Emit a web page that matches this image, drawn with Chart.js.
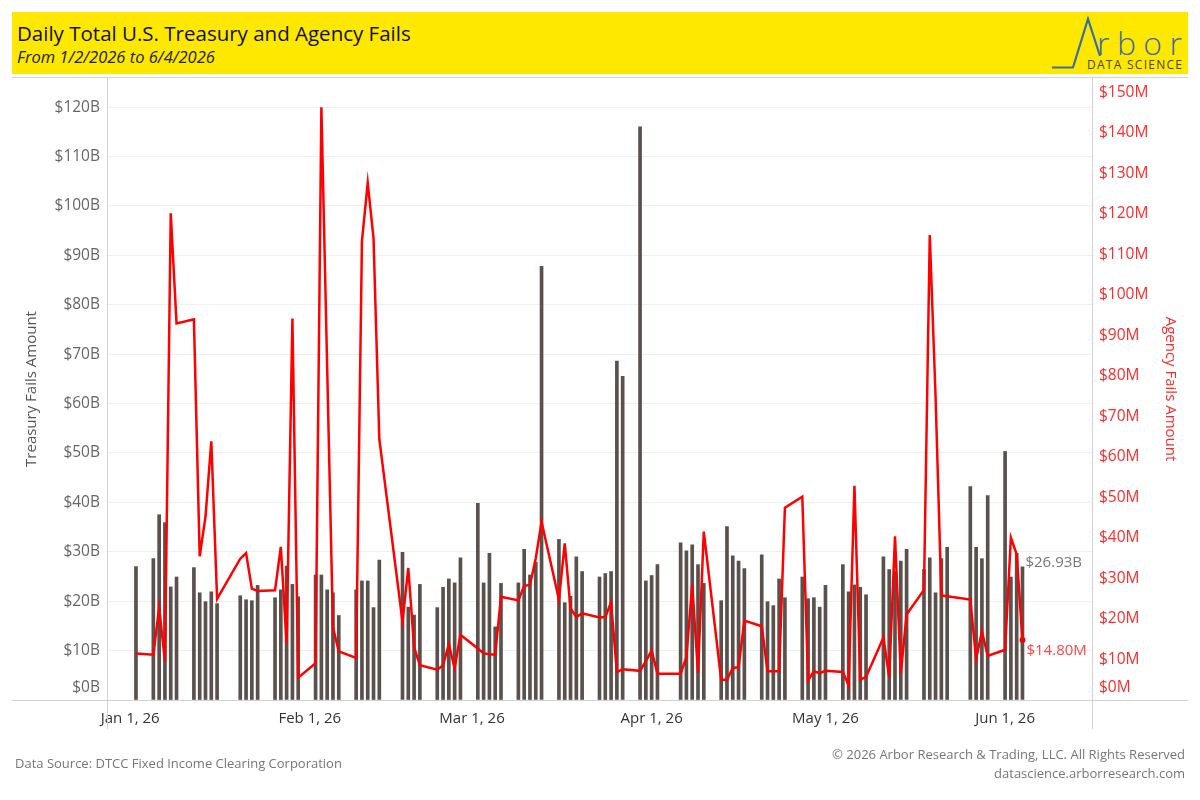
<!DOCTYPE html>
<html>
<head>
<meta charset="utf-8">
<script src="https://cdn.jsdelivr.net/npm/chart.js@4.4.1/dist/chart.umd.min.js"></script>
<style>
html, body { margin: 0; padding: 0; background: #fff; }
body { width: 1200px; height: 800px; position: relative; overflow: hidden; font-family: "Open Sans", sans-serif; }
#band { position: absolute; left: 12px; top: 12px; width: 1176px; height: 62px; background: #ffe800; }
#title { position: absolute; left: 17px; top: 19px; font-size: 20.5px; line-height: 28px; color: #111; white-space: nowrap; }
#subtitle { position: absolute; left: 17px; top: 46px; font-size: 16.5px; line-height: 22px; font-style: italic; color: #222; white-space: nowrap; }
#logo { position: absolute; left: 0; top: 0; }
#wrap { position: absolute; left: 0; top: 0; width: 1200px; height: 800px; }
.foot { position: absolute; font-size: 13px; line-height: 18px; color: #777; white-space: nowrap; }
</style>
</head>
<body>
<div id="band"></div>
<div id="title">Daily Total U.S. Treasury and Agency Fails</div>
<div id="subtitle">From 1/2/2026 to 6/4/2026</div>
<svg id="logo" width="1200" height="80">
  <polyline points="1052,67.5 1073,67.5 1088,19 1100,56" fill="none" stroke="#3d6ea3" stroke-width="2.2"/>
  <text x="1097" y="55" font-family="Open Sans" font-weight="300" font-size="32" fill="#3d6ea3" textLength="85" lengthAdjust="spacing">rbor</text>
  <text x="1087" y="68.5" font-family="Open Sans" font-size="12" fill="#444" textLength="95" lengthAdjust="spacing">DATA SCIENCE</text>
</svg>
<div id="wrap"><canvas id="chart"></canvas></div>
<div class="foot" style="left:15px; top:754px;">Data Source: DTCC Fixed Income Clearing Corporation</div>
<div class="foot" style="right:15px; top:745px;">© 2026 Arbor Research &amp; Trading, LLC. All Rights Reserved</div>
<div class="foot" style="right:15px; top:764px;">datascience.arborresearch.com</div>
<script>
// trading days shown in the chart
var tradeDates = [
  '2026-01-02','2026-01-05','2026-01-06','2026-01-07','2026-01-08','2026-01-09','2026-01-12','2026-01-13','2026-01-14','2026-01-15',
  '2026-01-16','2026-01-20','2026-01-21','2026-01-22','2026-01-23','2026-01-26','2026-01-27','2026-01-28','2026-01-29','2026-01-30',
  '2026-02-02','2026-02-03','2026-02-04','2026-02-05','2026-02-06','2026-02-09','2026-02-10','2026-02-11','2026-02-12','2026-02-13',
  '2026-02-17','2026-02-18','2026-02-19','2026-02-20','2026-02-23','2026-02-24','2026-02-25','2026-02-26','2026-02-27',
  '2026-03-02','2026-03-03','2026-03-04','2026-03-05','2026-03-06','2026-03-09','2026-03-10','2026-03-11','2026-03-12','2026-03-13',
  '2026-03-16','2026-03-17','2026-03-18','2026-03-19','2026-03-20','2026-03-23','2026-03-24','2026-03-25','2026-03-26','2026-03-27',
  '2026-03-30','2026-03-31',
  '2026-04-01','2026-04-02','2026-04-06','2026-04-07','2026-04-08','2026-04-09','2026-04-10','2026-04-13','2026-04-14','2026-04-15',
  '2026-04-16','2026-04-17','2026-04-20','2026-04-21','2026-04-22','2026-04-23','2026-04-24','2026-04-27','2026-04-28','2026-04-29',
  '2026-04-30',
  '2026-05-01','2026-05-04','2026-05-05','2026-05-06','2026-05-07','2026-05-08','2026-05-11','2026-05-12','2026-05-13','2026-05-14',
  '2026-05-15','2026-05-18','2026-05-19','2026-05-20','2026-05-21','2026-05-22','2026-05-26','2026-05-27','2026-05-28','2026-05-29',
  '2026-06-01','2026-06-02','2026-06-03','2026-06-04'
];

// treasury fails, $ billions
var treasuryFails = [
  27.0, 28.6, 37.5, 35.9, 22.9, 24.9, 26.8, 21.7, 19.9, 21.9, 19.5, 21.1, 20.3, 20.1, 23.2, 20.7, 22.3, 27.1, 23.4, 20.9,
  25.3, 25.3, 22.3, 21.7, 17.1, 22.3, 24.1, 24.1, 18.7, 28.3, 29.9, 18.8, 17.2, 23.4, 18.7, 22.8, 24.5, 23.7, 28.8,
  39.8, 23.7, 29.7, 14.8, 23.6, 23.7, 30.5, 25.3, 27.9, 87.8, 32.5, 19.7, 21.0, 29.0, 26.0, 24.9, 25.6, 26.0, 68.6, 65.5, 116.0, 24.1,
  25.2, 27.4, 31.8, 30.2, 31.4, 27.4, 23.6, 20.1, 35.1, 29.2, 28.1, 26.6, 29.4, 19.9, 19.1, 24.5, 20.7, 24.9, 20.5, 20.7, 18.8,
  23.2, 27.4, 21.9, 23.3, 22.8, 21.3, 29.0, 26.4, 26.0, 28.1, 30.5, 26.4, 28.8, 21.7, 28.6, 30.9, 43.2, 30.9, 28.6, 41.4,
  50.3, 24.9, 29.7, 26.93
];

// agency fails, $ millions
var agencyFails = [
  11.5, 11.2, 22.8, 9.6, 120.2, 93.0, 94.0, 35.5, 45.3, 63.9, 25.0, 34.9, 36.3, 27.5, 26.9, 27.1, 37.8, 14.0, 94.2, 5.5,
  9.1, 146.4, 82.0, 17.9, 12.0, 10.4, 113.3, 127.7, 114.0, 64.4, 19.4, 32.6, 13.0, 8.6, 7.5, 8.6, 13.7, 7.9, 16.1,
  12.7, 11.5, 11.3, 11.2, 25.5, 24.6, 28.2, 28.4, 35.0, 44.0, 24.8, 38.7, 22.6, 20.5, 21.4, 20.4, 20.5, 24.1, 6.9, 7.6, 7.2, 9.6,
  12.2, 6.5, 6.5, 10.6, 28.5, 6.7, 41.6, 5.0, 5.0, 7.9, 8.1, 19.6, 18.2, 7.1, 7.1, 7.1, 47.5, 50.2, 4.9, 7.1, 6.6,
  7.2, 6.9, 3.6, 52.9, 5.0, 5.7, 15.4, 5.6, 40.4, 6.6, 21.1, 27.2, 114.8, 75.0, 25.8, 25.6, 24.8, 10.1, 16.9, 10.9,
  12.4, 40.1, 36.0, 14.8
];

var monthTicks = ['2026-01-01','2026-02-01','2026-03-01','2026-04-01','2026-05-01','2026-06-01'];
var axisRange = ['2025-12-28','2026-06-16'];
var treasuryTicks = [0,10,20,30,40,50,60,70,80,90,100,110,120];
var agencyTicks = [0,10,20,30,40,50,60,70,80,90,100,110,120,130,140,150];
var monthNames = ['Jan','Feb','Mar','Apr','May','Jun','Jul','Aug','Sep','Oct','Nov','Dec'];

function dayNum(s) {
	var p = s.split('-');
	return (Date.UTC(+p[0], +p[1] - 1, +p[2]) - Date.UTC(2026, 0, 1)) / 86400000;
}
function dayLabel(n) {
	var d = new Date(Date.UTC(2026, 0, 1) + n * 86400000);
	return monthNames[d.getUTCMonth()] + ' ' + d.getUTCDate() + ', ' + String(d.getUTCFullYear()).slice(2);
}

var barPts = tradeDates.map(function(s, i) { return { x: dayNum(s), y: treasuryFails[i] }; });
var linePts = tradeDates.map(function(s, i) { return { x: dayNum(s), y: agencyFails[i] }; });
var last = tradeDates.length - 1;

var framePlugin = {
	id: 'frame',
	afterDraw: function(chart) {
		var ctx = chart.ctx, a = chart.chartArea;
		ctx.save();
		ctx.strokeStyle = '#d2d2d2';
		ctx.lineWidth = 1;
		ctx.beginPath();
		ctx.moveTo(12, a.top - 0.5); ctx.lineTo(1188, a.top - 0.5);
		ctx.moveTo(Math.round(a.left) + 0.5, a.top); ctx.lineTo(Math.round(a.left) + 0.5, a.bottom + 29);
		ctx.moveTo(Math.round(a.right) + 0.5, a.top); ctx.lineTo(Math.round(a.right) + 0.5, a.bottom + 29);
		ctx.moveTo(12, Math.round(a.bottom) + 0.5); ctx.lineTo(1188, Math.round(a.bottom) + 0.5);
		ctx.stroke();
		ctx.restore();
	}
};

var lastLabels = {
	id: 'lastLabels',
	afterDatasetsDraw: function(chart) {
		var ctx = chart.ctx;
		var p = chart.getDatasetMeta(0).data[last];
		var b = chart.getDatasetMeta(1).data[last];
		ctx.save();
		ctx.font = '15px "Open Sans"';
		ctx.textBaseline = 'middle';
		ctx.textAlign = 'left';
		ctx.fillStyle = '#777';
		ctx.fillText('$' + treasuryFails[last].toFixed(2) + 'B', b.x + 3, b.y - 4);
		ctx.fillStyle = '#ff4545';
		ctx.fillText('$' + agencyFails[last].toFixed(2) + 'M', p.x + 4, p.y + 11);
		ctx.restore();
	}
};

Chart.defaults.font.family = '"Open Sans", sans-serif';

var ctx = document.getElementById('chart');
new Chart(ctx, {
	type: 'bar',
	data: {
		datasets: [{
			type: 'line',
			label: 'Agency Fails',
			data: linePts,
			yAxisID: 'yA',
			borderColor: '#ff0000',
			borderWidth: 2.5,
			tension: 0,
			pointRadius: function(c) { return c.dataIndex === last ? 3 : 0; },
			pointBackgroundColor: '#ff0000',
			pointBorderWidth: 0,
			order: 0
		}, {
			type: 'bar',
			label: 'Treasury Fails',
			data: barPts,
			yAxisID: 'yT',
			backgroundColor: '#5a504c',
			barThickness: 3,
			order: 1
		}]
	},
	options: {
		responsive: true,
		maintainAspectRatio: false,
		animation: false,
		layout: { padding: { top: 78, left: 12, right: 12, bottom: 0 } },
		plugins: { legend: { display: false }, tooltip: { enabled: false } },
		scales: {
			x: {
				type: 'linear',
				offset: false,
				min: dayNum(axisRange[0]),
				max: dayNum(axisRange[1]),
				afterBuildTicks: function(s) { s.ticks = monthTicks.map(function(m) { return { value: dayNum(m) }; }); },
				afterFit: function(s) { s.height = 100; },
				grid: { display: false, drawTicks: false, offset: false },
				border: { display: false },
				ticks: {
					autoSkip: false,
					maxRotation: 0,
					padding: 10,
					color: '#333',
					font: { size: 15 },
					callback: function(v) { return dayLabel(v); }
				}
			},
			yT: {
				position: 'left',
				min: 0,
				max: 125.9,
				afterBuildTicks: function(s) { s.ticks = treasuryTicks.map(function(v) { return { value: v }; }); },
				afterFit: function(s) { s.width = 95; },
				grid: { color: '#efefef', drawTicks: false },
				border: { display: false },
				ticks: {
					autoSkip: false,
					padding: 7,
					color: '#666',
					font: function(c) { return { size: 15.5, lineHeight: c.tick && c.tick.value === 0 ? 1.6 : 1.2 }; },
					callback: function(v) { return v === 0 ? ['$0B', ''] : '$' + v + 'B'; }
				},
				title: { display: true, text: 'Treasury Fails Amount', color: '#555', font: { size: 15 }, padding: { top: 11 } }
			},
			yA: {
				position: 'right',
				min: 0,
				max: 153.6,
				afterBuildTicks: function(s) { s.ticks = agencyTicks.map(function(v) { return { value: v }; }); },
				afterFit: function(s) { s.width = 96; },
				grid: { display: false, drawTicks: false },
				border: { display: false },
				ticks: {
					autoSkip: false,
					padding: 7,
					color: '#ff2a2a',
					font: function(c) { return { size: 15.5, lineHeight: c.tick && c.tick.value === 0 ? 1.6 : 1.2 }; },
					callback: function(v) { return v === 0 ? ['$0M', ''] : '$' + v + 'M'; }
				},
				title: { display: true, text: 'Agency Fails Amount', color: '#ff2a2a', font: { size: 15 }, padding: { top: 9 } }
			}
		}
	},
	plugins: [framePlugin, lastLabels]
});
</script>
</body>
</html>
